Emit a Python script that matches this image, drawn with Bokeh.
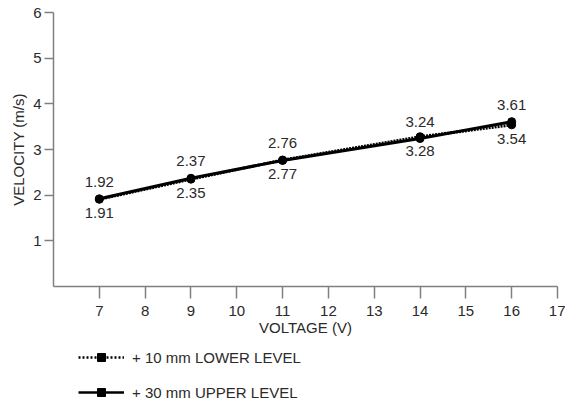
from bokeh.plotting import figure
from bokeh.layouts import column
from bokeh.models import ColumnDataSource, LabelSet, Legend, LegendItem, FixedTicker, Range1d
from bokeh.core.properties import value
from bokeh.embed import file_html
from bokeh.resources import INLINE

voltage = [7, 9, 11, 14, 16]
upper_level = [1.92, 2.37, 2.76, 3.24, 3.61]   # + 30 mm UPPER LEVEL (solid)
lower_level = [1.91, 2.35, 2.77, 3.28, 3.54]   # + 10 mm LOWER LEVEL (dotted)
x_ticks = [7, 8, 9, 10, 11, 12, 13, 14, 15, 16, 17]
y_ticks = [1, 2, 3, 4, 5, 6]
legend_labels = ["+ 10 mm LOWER LEVEL", "+ 30 mm UPPER LEVEL"]

FONT = "Liberation Sans"
TXT = "#2a2a2a"
AX = "#808080"

p = figure(width=565, height=345, output_backend="svg", toolbar_location=None,
           x_range=Range1d(6, 17), y_range=Range1d(0, 6),
           min_border_left=53, min_border_right=8, min_border_top=12, min_border_bottom=59)
p.outline_line_color = None
p.xgrid.visible = False
p.ygrid.visible = False

src = ColumnDataSource(dict(x=voltage, up=upper_level, lo=lower_level,
                            up_t=[f"{v:.2f}" for v in upper_level],
                            lo_t=[f"{v:.2f}" for v in lower_level]))

p.line("x", "lo", source=src, line_color="black", line_width=3, line_dash="2 1")
p.line("x", "up", source=src, line_color="black", line_width=3)
p.scatter("x", "lo", source=src, size=8, color="black")
p.scatter("x", "up", source=src, size=8, color="black")

p.add_layout(LabelSet(x="x", y="up", text="up_t", source=src, y_offset=17,
                      text_align="center", text_baseline="middle",
                      text_font=value(FONT), text_font_size="15px", text_color=TXT))
p.add_layout(LabelSet(x="x", y="lo", text="lo_t", source=src, y_offset=-14,
                      text_align="center", text_baseline="middle",
                      text_font=value(FONT), text_font_size="15px", text_color=TXT))

# axes
p.xaxis.ticker = FixedTicker(ticks=x_ticks)
p.yaxis.ticker = FixedTicker(ticks=y_ticks)
p.xaxis.axis_label = "VOLTAGE (V)"
p.yaxis.axis_label = "VELOCITY (m/s)"
for ax in (p.xaxis[0], p.yaxis[0]):
    ax.axis_line_color = AX
    ax.axis_line_width = 1.5
    ax.major_tick_line_color = AX
    ax.major_tick_line_width = 1.5
    ax.major_tick_in = 0
    ax.minor_tick_line_color = None
    ax.major_label_text_font = FONT
    ax.major_label_text_font_size = "15px"
    ax.major_label_text_color = TXT
    ax.axis_label_text_font = FONT
    ax.axis_label_text_font_size = "15px"
    ax.axis_label_text_font_style = "normal"
    ax.axis_label_text_color = TXT
p.xaxis.major_tick_out = 12
p.xaxis.major_label_standoff = 7
p.xaxis.axis_label_standoff = 0
p.yaxis.major_tick_out = 9
p.yaxis.major_label_standoff = 3
p.yaxis.axis_label_standoff = 3

# legend figure below the chart (renderers whose points lie outside its frame)
p2 = figure(width=565, height=65, output_backend="svg", toolbar_location=None,
            x_axis_location=None, y_axis_location=None, min_border=0,
            x_range=Range1d(0, 1), y_range=Range1d(0, 1))
p2.outline_line_color = None
p2.xgrid.visible = False
p2.ygrid.visible = False
off = ColumnDataSource(dict(x=[-10, -11], y=[-10, -10]))
l1 = p2.line("x", "y", source=off, line_color="black", line_width=2.5, line_dash="2 2")
m1 = p2.scatter("x", "y", source=off, marker="square", size=7, color="black")
l2 = p2.line("x", "y", source=off, line_color="black", line_width=2.5)
m2 = p2.scatter("x", "y", source=off, marker="square", size=7, color="black")

legend = Legend(items=[LegendItem(label=legend_labels[0], renderers=[l1, m1]),
                       LegendItem(label=legend_labels[1], renderers=[l2, m2])],
                location=(25, 8), orientation="vertical",
                glyph_width=46, glyph_height=20, spacing=15, label_standoff=8,
                padding=0, margin=0, border_line_color=None, background_fill_alpha=0,
                label_text_font=FONT, label_text_font_size="15px", label_text_color=TXT)
p2.add_layout(legend, "center")

open("out.html", "w").write(file_html(column(p, p2, spacing=0), INLINE))
